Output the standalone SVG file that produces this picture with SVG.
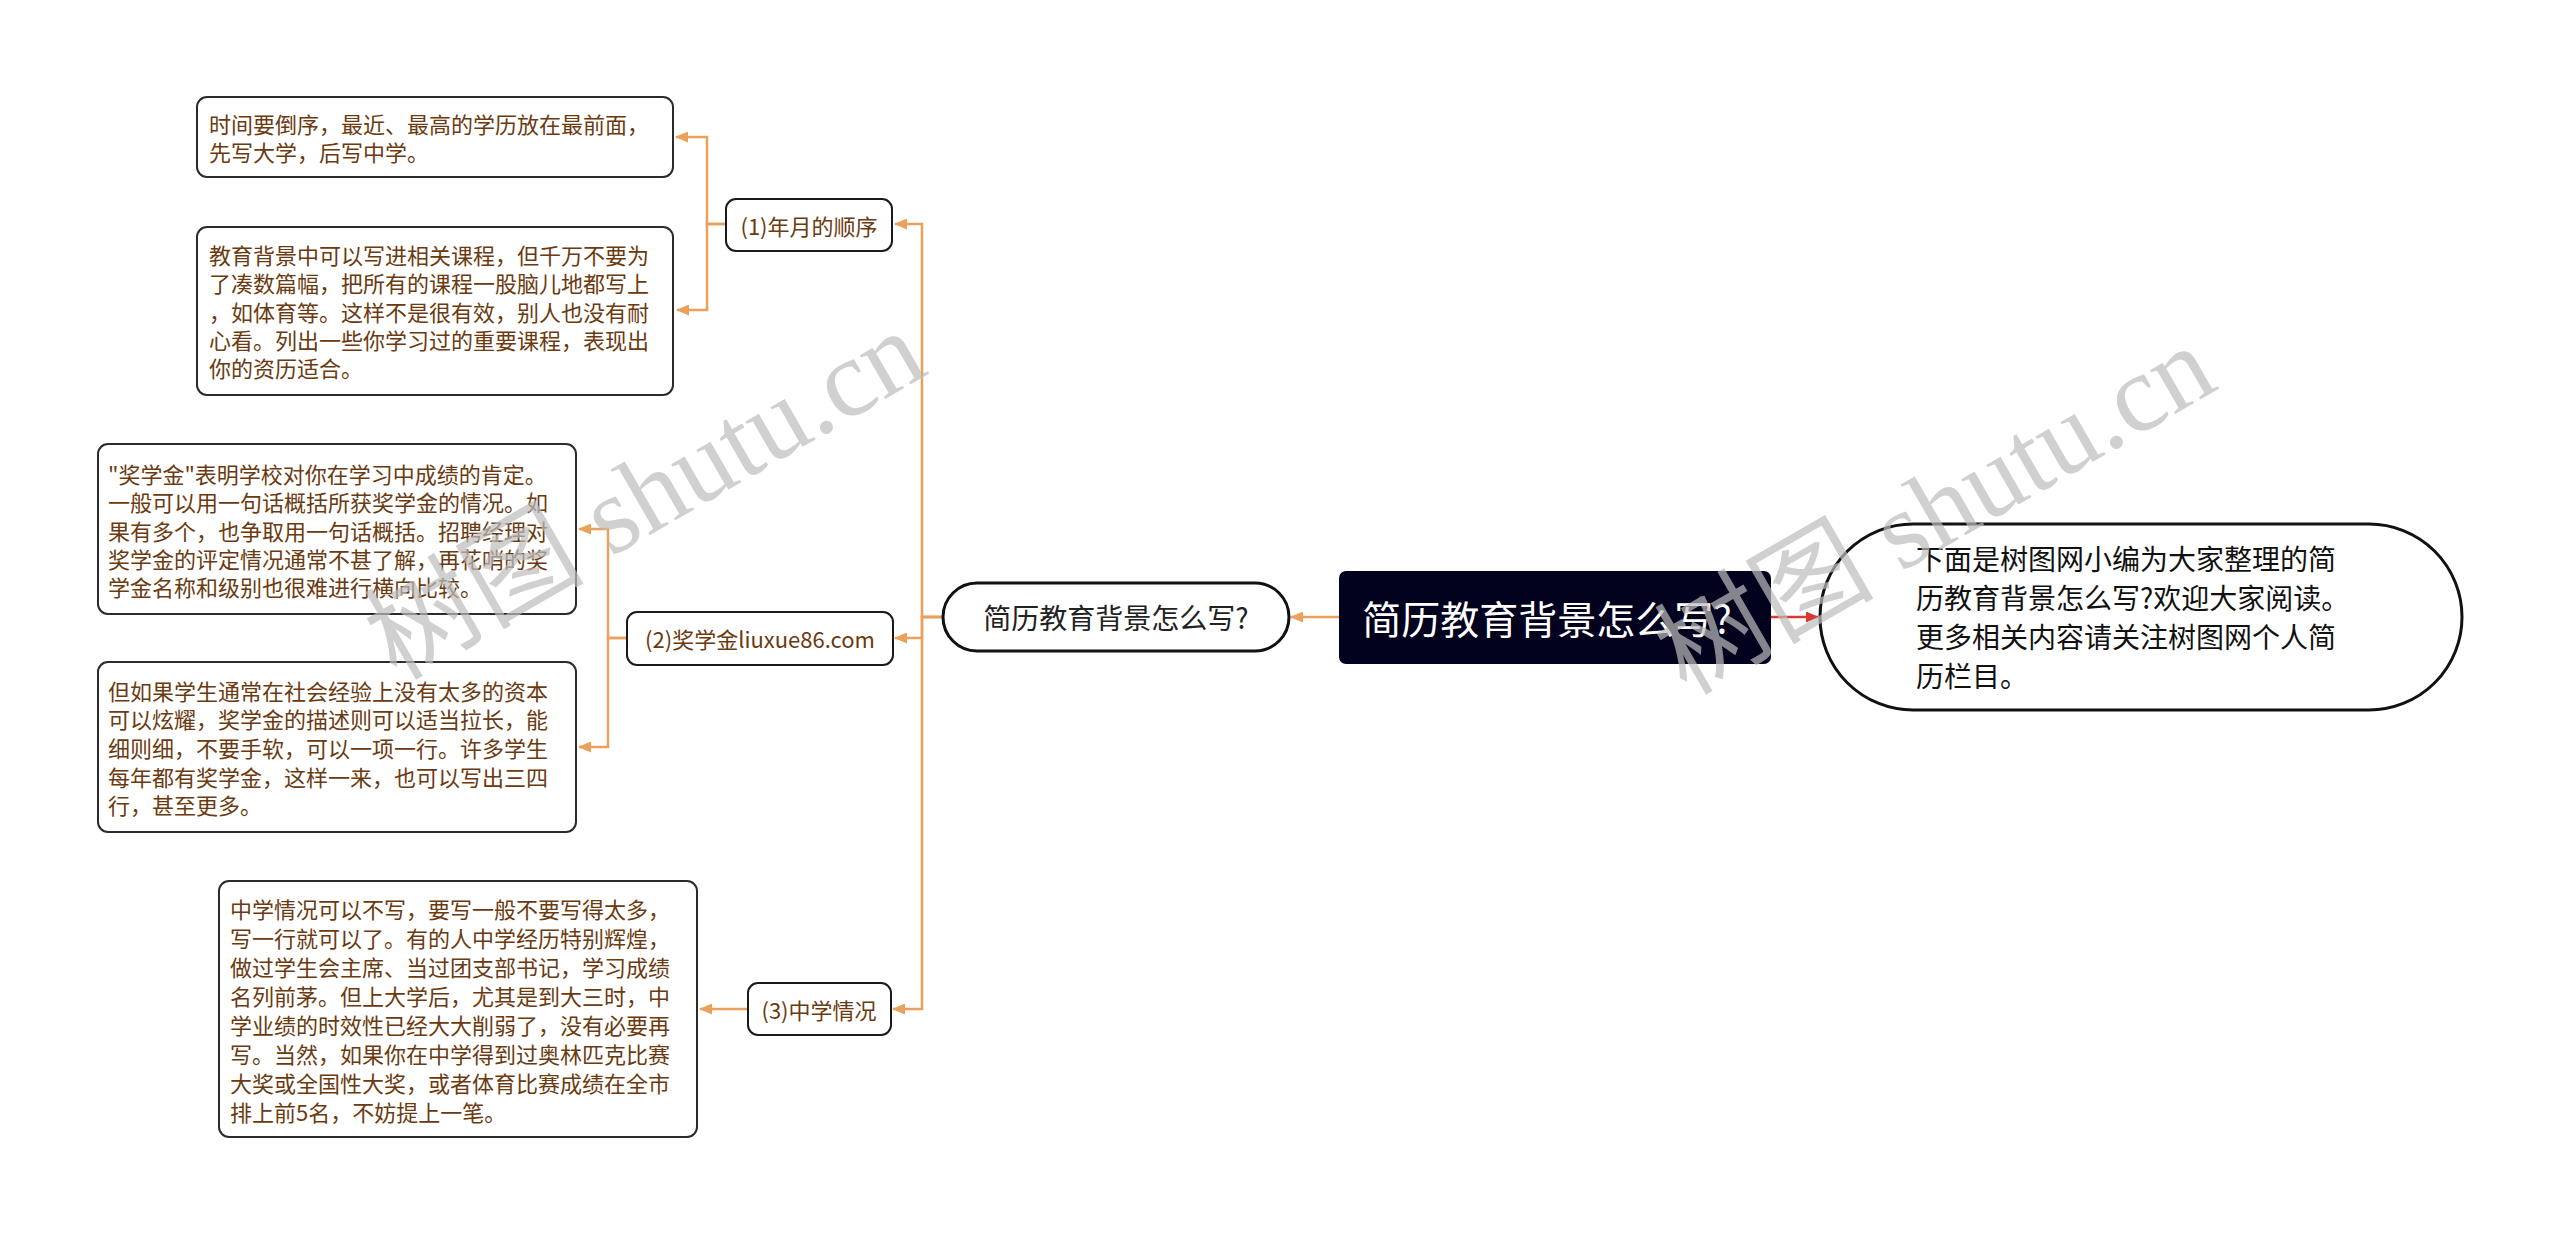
<svg xmlns="http://www.w3.org/2000/svg" width="2560" height="1235" viewBox="0 0 2560 1235">
<style>
.box{fill:#fff;stroke:#2b2b2b;stroke-width:2}
.sub{fill:#fff;stroke:#1a1a1a;stroke-width:2}
.t{font-family:"Noto Sans CJK SC","Liberation Sans",sans-serif;font-size:22px;fill:#6b3a10;dominant-baseline:central}
.ln{fill:none;stroke:#eba15c;stroke-width:2.5}
.wm{font-family:"Liberation Serif","Noto Sans CJK SC",serif;font-size:110px;fill:#bdbdbd;opacity:0.7;text-anchor:middle;dominant-baseline:central}
</style>
<defs>
<marker id="ao" markerUnits="userSpaceOnUse" markerWidth="13" markerHeight="11" refX="12" refY="5.5" orient="auto"><path d="M0,0 L13,5.5 L0,11 Z" fill="#eba15c"/></marker>
<marker id="ar" markerUnits="userSpaceOnUse" markerWidth="13" markerHeight="11" refX="12" refY="5.5" orient="auto"><path d="M0,0 L13,5.5 L0,11 Z" fill="#d63b33"/></marker>
</defs>
<rect width="2560" height="1235" fill="#fff"/>
<g id="connectors">
<path class="ln" d="M1339,617 H1291" marker-end="url(#ao)"/>
<path d="M1771,617 H1818" fill="none" stroke="#d63b33" stroke-width="2.5" marker-end="url(#ar)"/>
<path class="ln" d="M943,617 H922 V224 H895" marker-end="url(#ao)"/>
<path class="ln" d="M943,617 H922 V638 H895" marker-end="url(#ao)"/>
<path class="ln" d="M943,617 H922 V1009 H893" marker-end="url(#ao)"/>
<path class="ln" d="M726,224 H707 V137 H676" marker-end="url(#ao)"/>
<path class="ln" d="M726,224 H707 V310 H677" marker-end="url(#ao)"/>
<path class="ln" d="M627,638 H608 V529 H579" marker-end="url(#ao)"/>
<path class="ln" d="M627,638 H608 V747 H579" marker-end="url(#ao)"/>
<path class="ln" d="M748,1009 H700" marker-end="url(#ao)"/>
</g>
<g id="root">
<rect x="1339" y="571" width="432" height="93" rx="7" fill="#02021f"/>
<text x="1547" y="617" text-anchor="middle" style="font-family:'Noto Sans CJK SC','Liberation Sans',sans-serif;font-size:39px;fill:#fff;dominant-baseline:central">简历教育背景怎么写?</text>
</g>
<g id="intro">
<rect x="1820" y="524" width="642" height="186" rx="93" fill="#fff" stroke="#111" stroke-width="3"/>
<text style="font-family:'Noto Sans CJK SC','Liberation Sans',sans-serif;font-size:28px;fill:#111;dominant-baseline:central">
<tspan x="1916" y="558">下面是树图网小编为大家整理的简</tspan>
<tspan x="1916" y="597">历教育背景怎么写?欢迎大家阅读。</tspan>
<tspan x="1916" y="636">更多相关内容请关注树图网个人简</tspan>
<tspan x="1916" y="675">历栏目。</tspan>
</text>
</g>
<g id="main">
<rect x="943" y="583" width="346" height="68" rx="34" fill="#fff" stroke="#111" stroke-width="3"/>
<text x="1116" y="617" text-anchor="middle" style="font-family:'Noto Sans CJK SC','Liberation Sans',sans-serif;font-size:28px;fill:#222;dominant-baseline:central">简历教育背景怎么写?</text>
</g>
<g id="n1">
<rect class="sub" x="726" y="199" width="166" height="52" rx="10"/>
<text class="t" x="809" y="225" text-anchor="middle">(1)年月的顺序</text>
</g>
<g id="n2">
<rect class="sub" x="627" y="612" width="266" height="53" rx="10"/>
<text class="t" x="760" y="638" text-anchor="middle">(2)奖学金liuxue86.com</text>
</g>
<g id="n3">
<rect class="sub" x="748" y="983" width="143" height="52" rx="10"/>
<text class="t" x="819" y="1009" text-anchor="middle">(3)中学情况</text>
</g>
<g id="b1">
<rect class="box" x="197" y="97" width="476" height="80" rx="10"/>
<text class="t"><tspan x="209" y="123">时间要倒序，最近、最高的学历放在最前面，</tspan><tspan x="209" y="151">先写大学，后写中学。</tspan></text>
</g>
<g id="b2">
<rect class="box" x="197" y="227" width="476" height="168" rx="10"/>
<text class="t"><tspan x="209" y="254">教育背景中可以写进相关课程，但千万不要为</tspan><tspan x="209" y="282">了凑数篇幅，把所有的课程一股脑儿地都写上</tspan><tspan x="209" y="311">，如体育等。这样不是很有效，别人也没有耐</tspan><tspan x="209" y="339">心看。列出一些你学习过的重要课程，表现出</tspan><tspan x="209" y="367">你的资历适合。</tspan></text>
</g>
<g id="b3">
<rect class="box" x="98" y="444" width="478" height="170" rx="10"/>
<text class="t"><tspan x="108" y="473">"奖学金"表明学校对你在学习中成绩的肯定。</tspan><tspan x="108" y="501">一般可以用一句话概括所获奖学金的情况。如</tspan><tspan x="108" y="530">果有多个，也争取用一句话概括。招聘经理对</tspan><tspan x="108" y="558">奖学金的评定情况通常不甚了解，再花哨的奖</tspan><tspan x="108" y="586">学金名称和级别也很难进行横向比较。</tspan></text>
</g>
<g id="b4">
<rect class="box" x="98" y="662" width="478" height="170" rx="10"/>
<text class="t"><tspan x="108" y="690">但如果学生通常在社会经验上没有太多的资本</tspan><tspan x="108" y="718">可以炫耀，奖学金的描述则可以适当拉长，能</tspan><tspan x="108" y="747">细则细，不要手软，可以一项一行。许多学生</tspan><tspan x="108" y="776">每年都有奖学金，这样一来，也可以写出三四</tspan><tspan x="108" y="804">行，甚至更多。</tspan></text>
</g>
<g id="b5">
<rect class="box" x="219" y="881" width="478" height="256" rx="10"/>
<text class="t"><tspan x="230" y="908">中学情况可以不写，要写一般不要写得太多，</tspan><tspan x="230" y="937">写一行就可以了。有的人中学经历特别辉煌，</tspan><tspan x="230" y="966">做过学生会主席、当过团支部书记，学习成绩</tspan><tspan x="230" y="995">名列前茅。但上大学后，尤其是到大三时，中</tspan><tspan x="230" y="1024">学业绩的时效性已经大大削弱了，没有必要再</tspan><tspan x="230" y="1053">写。当然，如果你在中学得到过奥林匹克比赛</tspan><tspan x="230" y="1082">大奖或全国性大奖，或者体育比赛成绩在全市</tspan><tspan x="230" y="1111">排上前5名，不妨提上一笔。</tspan></text>
</g>
<g id="watermark">
<text class="wm" transform="translate(645,495) rotate(-30)">树图 shutu.cn</text>
<text class="wm" transform="translate(1935,510) rotate(-30)">树图 shutu.cn</text>
</g>
</svg>
